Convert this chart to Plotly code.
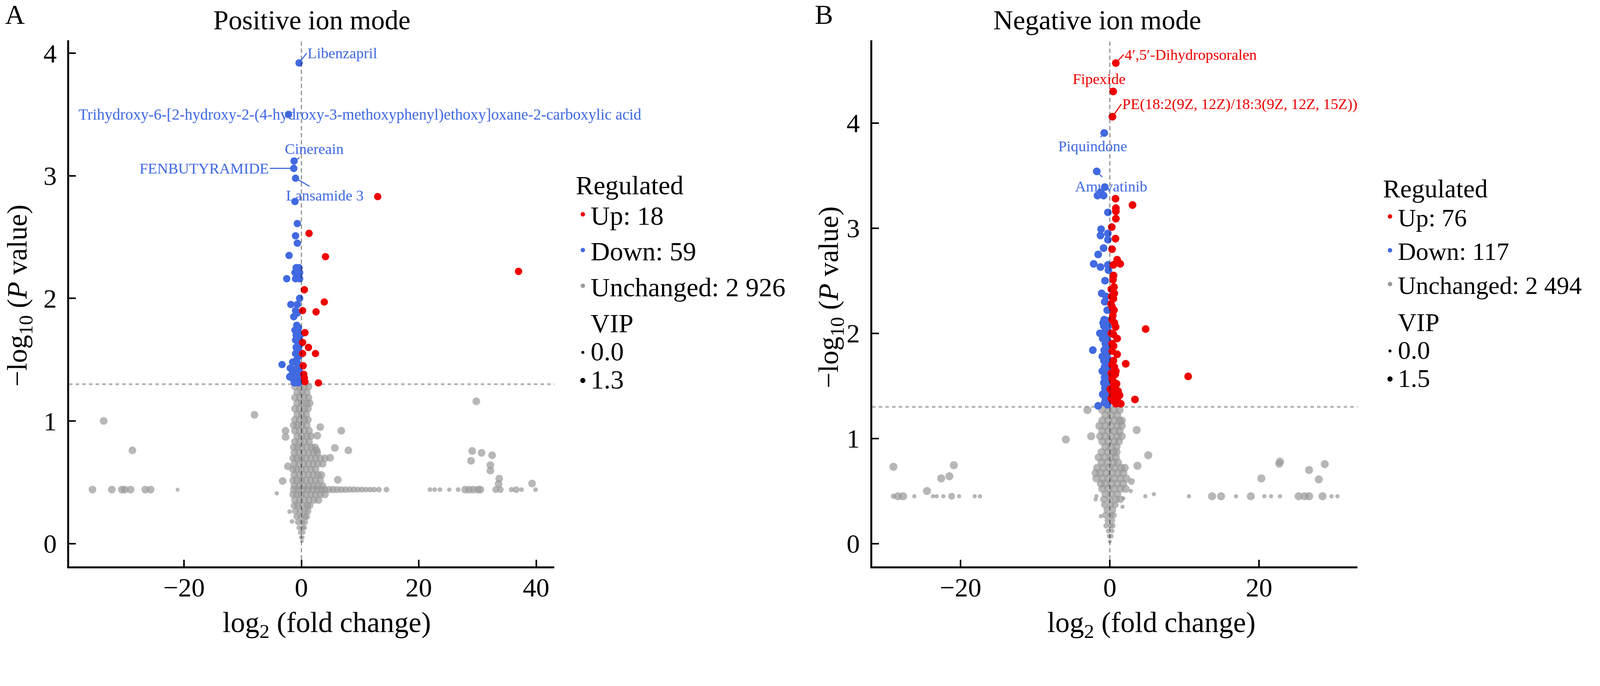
import plotly.graph_objects as go

FONT = "Liberation Serif, Times New Roman, serif"
RED = "#f00000"
BLUE = "#4169e1"
GREY = "#999999"
W, H = 4332, 1755          # reference pixel grid used for all positions
S = 4093 / 4332            # css px per reference px in the viewer


def px(v):
    return v * S


# ---------------- Positive ion mode (panel A) ----------------
pos_up_x = [13.0, 1.3, 4.1, 37.0, 0.5, 3.9, 0.2, 2.5, 0.6, 0.2, 1.2, 0.2, 2.4, 0.4, 0.6, 2.9, 0.3, 0.5]
pos_up_y = [2.83, 2.53, 2.34, 2.22, 2.07, 1.97, 1.90, 1.89, 1.72, 1.64, 1.60, 1.55, 1.55, 1.38, 1.32, 1.31, 1.45, 1.35]

pos_down_x = [-0.4, -2.2, -1.25, -1.3, -1.0, -1.1,
              -0.7, -1.0, -0.7, -2.1,
              -0.9, -0.4, -1.1, -0.3, -0.7, -2.5, -1.0, -0.3,
              -0.3, -1.8, -0.7, -1.0, -0.7, -1.3,
              -0.8, -0.5, -1.1, -0.6, -0.2, -0.9, -0.4, -1.0, -0.6, -0.3,
              -0.9, -0.5, -0.6, -1.0, -0.4, -0.8, -1.1, -1.5, -3.3, -0.5,
              -0.4, -1.9, -1.3, -0.8, -0.3, -1.6, -1.0, -2.0, -0.4, -1.4,
              -0.7, -0.2, -0.9, -1.2, -0.5]
pos_down_y = [3.92, 3.50, 3.12, 3.06, 2.98, 2.79,
              2.61, 2.51, 2.45, 2.35,
              2.25, 2.25, 2.21, 2.21, 2.19, 2.16, 2.16, 2.16,
              2.00, 1.95, 1.95, 1.90, 1.88, 1.85,
              1.78, 1.76, 1.74, 1.72, 1.70, 1.70, 1.68, 1.66, 1.64, 1.62,
              1.60, 1.58, 1.56, 1.55, 1.53, 1.50, 1.48, 1.48, 1.46, 1.46,
              1.45, 1.43, 1.42, 1.41, 1.40, 1.38, 1.37, 1.36, 1.35, 1.34,
              1.33, 1.32, 1.32, 1.31, 1.31]

# dense unchanged cloud: (y, vip, x positions)
pos_cloud = [
    (1.28, 1.3, [-1.1, -0.3, 0.5, 1.2]),
    (1.235, 1.3, [-0.7, 0.1, 0.9]),
    (1.19, 1.3, [-1.1, -0.3, 0.5, 1.2]),
    (1.145, 1.3, [-0.7, 0.1, 0.9, 1.4]),
    (1.10, 1.3, [-1.1, -0.3, 0.5, 1.1]),
    (1.055, 1.3, [-0.7, 0.1, 0.8]),
    (1.01, 1.3, [-1.1, -0.3, 0.5, 1.1]),
    (0.965, 1.3, [-1.3, -0.7, 0.1, 0.9]),
    (0.92, 1.3, [-1.1, -0.3, 0.5, 1.3]),
    (0.875, 1.3, [-0.7, 0.1, 0.9, 1.6]),
    (0.83, 1.3, [-1.1, -0.3, 0.5, 1.3]),
    (0.785, 1.3, [-1.3, -0.7, 0.1, 0.9, 1.7, 2.3]),
    (0.74, 1.3, [-1.2, -0.4, 0.4, 1.2, 2.0, 2.7]),
    (0.695, 1.3, [-1.4, -0.8, 0.0, 0.8, 1.6, 2.4, 3.2, 4.0]),
    (0.65, 1.3, [-1.2, -0.4, 0.4, 1.2, 2.0, 2.8, 3.6]),
    (0.605, 1.3, [-1.4, -0.8, 0.0, 0.8, 1.6, 2.4]),
    (0.56, 1.3, [-1.2, -0.4, 0.4, 1.2, 2.0, 2.8, 3.4]),
    (0.515, 1.3, [-1.4, -0.8, 0.0, 0.8, 1.6, 2.4, 3.2]),
    (0.47, 1.3, [-1.2, -0.4, 0.4, 1.2, 2.0, 2.8, 3.6]),
    (0.44, 1.3, [-1.3, -0.5, 0.3, 1.1, 1.9, 2.7, 3.4]),
    (0.40, 1.3, [-1.4, -0.8, 0.0, 0.8, 1.6, 2.4, 3.2, 4.0]),
    (0.355, 1.3, [-1.1, -0.3, 0.5, 1.3, 2.1, 2.9]),
    (0.31, 1.2, [-1.2, -0.6, 0.2, 1.0, 1.4]),
    (0.265, 1.1, [-1.0, -0.2, 0.6, 1.1]),
    (0.22, 1.0, [-0.8, -0.1, 0.6, 0.9]),
    (0.175, 0.8, [-0.6, 0.1, 0.6]),
    (0.13, 0.6, [-0.4, 0.2, 0.5]),
    (0.09, 0.4, [-0.2, 0.3]),
    (0.05, 0.2, [-0.1, 0.2]),
    (0.02, 0.1, [0.1]),
]
# scattered unchanged points: (x, y, vip)
pos_grey = [
    (-33.7, 1.00, 1.3), (-28.8, 0.76, 1.3), (-35.6, 0.44, 1.3), (-32.3, 0.44, 1.3),
    (-30.6, 0.44, 1.3), (-30.1, 0.44, 1.3), (-29.1, 0.44, 1.3), (-26.6, 0.44, 1.3),
    (-25.7, 0.44, 1.3), (-21.1, 0.44, 0.2), (-8.0, 1.05, 1.3),
    (-2.7, 0.92, 1.3), (-2.7, 0.87, 1.3), (3.2, 0.95, 1.3), (6.8, 0.92, 1.3),
    (2.7, 0.88, 1.3), (5.7, 0.78, 1.3), (8.0, 0.76, 1.3), (2.6, 0.76, 1.3),
    (4.9, 0.70, 1.3), (-2.3, 0.63, 1.3), (6.2, 0.52, 1.3), (-3.2, 0.51, 1.3),
    (-4.2, 0.41, 0.3), (-2.0, 0.26, 0.4), (-1.6, 0.18, 0.4),
    (4.0, 0.44, 1.2), (4.7, 0.44, 1.2), (5.4, 0.44, 1.2), (6.1, 0.44, 1.1),
    (6.8, 0.44, 1.0), (7.5, 0.44, 1.0), (8.2, 0.44, 0.9), (8.9, 0.44, 0.9),
    (9.6, 0.44, 0.8), (10.3, 0.44, 0.8), (11.0, 0.44, 0.7), (11.7, 0.44, 0.7),
    (12.4, 0.44, 0.7), (13.2, 0.44, 0.7), (14.5, 0.44, 0.7),
    (21.9, 0.44, 0.4), (22.7, 0.44, 0.4), (23.6, 0.44, 0.4), (25.2, 0.44, 0.3),
    (26.7, 0.44, 0.4), (27.9, 0.44, 1.3), (28.6, 0.44, 1.3), (29.3, 0.44, 1.3),
    (30.1, 0.44, 1.3), (30.5, 0.44, 1.3), (33.1, 0.44, 1.0), (33.9, 0.44, 1.0),
    (35.8, 0.44, 0.6), (36.6, 0.44, 1.0), (37.5, 0.44, 0.4), (39.9, 0.44, 0.4),
    (29.8, 1.16, 1.3), (29.1, 0.755, 1.3), (30.7, 0.74, 1.3), (32.5, 0.72, 1.3),
    (28.9, 0.675, 1.3), (32.2, 0.64, 1.3), (32.2, 0.595, 1.3), (33.7, 0.53, 1.3),
    (33.6, 0.485, 1.3), (39.3, 0.49, 1.3),
]
pos_sig_vip = 1.3
pos_labels = [
    # text, point x, point y, text x, text y, anchor, colour
    ("Libenzapril", -0.4, 3.92, 0.9, 4.0, "left", BLUE),
    ("Cinereain", -1.25, 3.12, 2.2, 3.22, "center", BLUE),
    ("FENBUTYRAMIDE", -1.3, 3.06, -5.4, 3.06, "right", BLUE),
    ("Lansamide 3", -1.0, 2.98, 4.0, 2.84, "center", BLUE),
]
pos_free_label = ("Trihydroxy-6-[2-hydroxy-2-(4-hydroxy-3-methoxyphenyl)ethoxy]oxane-2-carboxylic acid", -38.1, 3.50)
pos_counts = {"Up": 18, "Down": 59, "Unchanged": "2 926"}
pos_vip_breaks = ["0.0", "1.3"]

# ---------------- Negative ion mode (panel B) ----------------
neg_up_x = [0.8, 0.45, 0.35, 0.76, 3.04, 0.81, 0.81, 0.81, 0.26, 0.76,
            0.98, 1.39, 0.48, 0.43, 0.56, 0.23, 0.48, 0.15, 0.56, 0.4,
            0.31, 0.78, 4.8, 0.48, 0.98, 0.31, 0.98, 0.48, 2.13, 0.81,
            0.73, 10.5, 0.56, 0.07, 0.81, 0.64, 1.3, 3.37, 0.81, 1.47,
            0.3, 0.5, 0.3, 0.6, 0.3, 0.4, 0.2, 0.4, 1.0, 0.3,
            0.2, 0.6, 0.3, 0.2, 0.6, 0.9, 0.2, 1.1, 0.5, 0.3]
neg_up_y = [4.57, 4.30, 4.06, 3.28, 3.22, 3.19, 3.16, 3.09, 3.01, 2.90,
            2.70, 2.66, 2.65, 2.51, 2.44, 2.35, 2.33, 2.28, 2.22, 2.17,
            2.13, 2.06, 2.04, 1.99, 1.95, 1.83, 1.80, 1.74, 1.71, 1.64,
            1.61, 1.59, 1.52, 1.47, 1.47, 1.41, 1.41, 1.37, 1.33, 1.33,
            1.90, 1.88, 1.70, 1.68, 1.57, 1.55, 1.38, 1.36, 1.38, 1.44,
            2.00, 2.10, 2.25, 2.42, 2.38, 1.52, 1.62, 1.45, 2.55, 2.80]

neg_down_x = [-0.75, -1.75, -0.68, -1.26, -1.65, -0.84, -0.26, -1.17, -0.26, -1.25,
              -0.26, -0.84, -1.56, -2.16, -0.26, -1.25, -0.18, -0.64, -1.09, -0.5,
              -0.68, -0.35, -0.75, -0.3, -0.8, -0.25, -1.33, -0.7, -0.3, -0.85,
              -0.35, -2.28, -0.6, -0.25, -0.75, -0.3, -0.65, -0.25, -0.8, -0.35,
              -0.7, -0.25, -0.85, -0.3, -0.7, -0.25, -0.8, -0.35, -0.65, -0.25,
              -0.75, -0.3, -0.6, -0.25, -0.7, -1.56, -0.3, -1.0, -1.0, -0.95,
              -0.9, -0.95]
neg_down_y = [3.905, 3.54, 3.39, 3.34, 3.31, 3.31, 3.15, 2.99, 2.95, 2.93,
              2.89, 2.81, 2.75, 2.66, 2.65, 2.63, 2.60, 2.50, 2.38, 2.35,
              2.30, 2.22, 2.13, 2.12, 2.07, 2.06, 2.00, 2.01, 1.99, 1.95,
              1.94, 1.84, 1.90, 1.88, 1.84, 1.82, 1.78, 1.76, 1.74, 1.71,
              1.68, 1.66, 1.64, 1.61, 1.58, 1.56, 1.53, 1.51, 1.48, 1.46,
              1.43, 1.41, 1.38, 1.36, 1.34, 1.31, 1.32, 1.78, 1.64, 1.42,
              2.10, 1.95]

neg_cloud = [
    (1.27, 1.5, [-1.0, -0.2, 0.6, 1.3]),
    (1.22, 1.5, [-0.6, 0.2, 1.0]),
    (1.17, 1.5, [-1.0, -0.2, 0.6, 1.3]),
    (1.12, 1.5, [-1.4, -0.6, 0.2, 1.0, 1.6]),
    (1.07, 1.5, [-1.0, -0.2, 0.6, 1.3]),
    (1.02, 1.5, [-1.3, -0.6, 0.2, 1.0, 1.6]),
    (0.97, 1.5, [-1.0, -0.2, 0.6, 1.2]),
    (0.92, 1.5, [-0.6, 0.2, 0.9]),
    (0.87, 1.5, [-1.1, -0.3, 0.5, 0.9]),
    (0.82, 1.5, [-1.5, -0.7, 0.1, 0.8]),
    (0.77, 1.5, [-1.1, -0.3, 0.5, 1.1]),
    (0.72, 1.5, [-1.7, -0.9, -0.1, 0.7, 1.5, 2.0]),
    (0.67, 1.5, [-1.9, -1.3, -0.5, 0.3, 1.1, 1.8]),
    (0.62, 1.5, [-1.8, -1.0, -0.2, 0.6, 1.4, 2.2]),
    (0.57, 1.5, [-1.2, -0.6, 0.2, 1.0, 1.8]),
    (0.52, 1.5, [-1.0, -0.2, 0.6, 1.4, 2.1]),
    (0.47, 1.4, [-0.6, 0.2, 1.0]),
    (0.42, 1.3, [-0.8, 0.0, 0.8, 1.4]),
    (0.37, 1.2, [-0.7, 0.1, 0.7]),
    (0.32, 1.1, [-0.4, 0.4]),
    (0.27, 1.0, [-0.6, 0.1, 0.5]),
    (0.22, 0.9, [-0.3, 0.3]),
    (0.17, 0.7, [-0.5, 0.1, 0.4]),
    (0.12, 0.5, [-0.2, 0.3]),
    (0.07, 0.4, [-0.1, 0.2]),
    (0.02, 0.2, [0.0]),
]
neg_grey = [
    (-29.0, 0.73, 1.5), (-20.9, 0.745, 1.5), (-22.6, 0.62, 1.5), (-21.5, 0.64, 1.5),
    (-24.5, 0.50, 1.5),
    (-29.0, 0.45, 0.6), (-28.4, 0.45, 1.5), (-27.7, 0.45, 1.5), (-26.2, 0.45, 0.3),
    (-23.7, 0.45, 0.3), (-23.2, 0.45, 0.3), (-22.3, 0.45, 0.3), (-21.2, 0.45, 1.1),
    (-20.2, 0.45, 0.3), (-18.1, 0.45, 0.3), (-17.4, 0.45, 0.3),
    (-3.0, 1.27, 1.5), (-2.5, 1.02, 1.5), (-5.9, 0.99, 1.5), (3.6, 1.08, 1.5),
    (1.6, 1.17, 1.5), (5.15, 0.84, 1.5), (3.7, 0.74, 1.5), (2.9, 0.59, 1.1),
    (2.8, 0.50, 0.3), (4.75, 0.45, 0.3), (5.9, 0.47, 0.3), (1.8, 0.43, 0.3),
    (1.7, 0.35, 0.3), (-1.2, 0.26, 0.3), (-1.8, 0.45, 0.3), (-1.9, 0.42, 0.3),
    (10.6, 0.45, 0.3),
    (13.7, 0.45, 1.5), (14.9, 0.45, 1.5), (16.9, 0.45, 0.3), (18.9, 0.45, 1.5),
    (20.7, 0.45, 0.3), (21.6, 0.45, 0.3), (22.8, 0.45, 0.3), (25.3, 0.45, 1.5),
    (26.1, 0.45, 1.5), (26.7, 0.45, 1.5), (28.5, 0.45, 1.5), (29.7, 0.45, 0.3),
    (30.5, 0.45, 0.3),
    (22.7, 0.76, 1.5), (22.8, 0.78, 1.5), (20.3, 0.62, 1.5), (26.7, 0.70, 1.5),
    (28.8, 0.755, 1.5), (28.0, 0.61, 1.5),
]
neg_sig_vip = 1.5
neg_labels = [
    ("4\u2032,5\u2032-Dihydropsoralen", 0.8, 4.57, 1.85, 4.65, "left", RED),
    ("Fipexide", 0.45, 4.30, -1.4, 4.42, "center", RED),
    ("PE(18:2(9Z, 12Z)/18:3(9Z, 12Z, 15Z))", 0.35, 4.06, 1.55, 4.18, "left", RED),
    ("Piquindone", -0.75, 3.905, -2.3, 3.78, "center", BLUE),
    ("Amuvatinib", -1.75, 3.54, 0.15, 3.40, "center", BLUE),
]
neg_counts = {"Up": 76, "Down": 117, "Unchanged": "2 494"}
neg_vip_breaks = ["0.0", "1.5"]


def vip_size(vip, vip_max, smin, smax):
    return px(smin + (smax - smin) * vip / vip_max)


fig = go.Figure()


def add_panel(xa, ya, up_x, up_y, dn_x, dn_y, cloud, grey, sig_vip, vip_max, smax,
              labels, counts, vip_breaks, leg_reg, leg_vip, leg_font):
    gx, gy, gs = [], [], []
    for y, vip, xs in cloud:
        for x in xs:
            gx.append(x); gy.append(y); gs.append(vip_size(vip, vip_max, 9, smax))
    for x, y, vip in grey:
        gx.append(x); gy.append(y); gs.append(vip_size(vip, vip_max, 9, smax))
    common = dict(mode="markers", xaxis=xa, yaxis=ya, showlegend=False, hoverinfo="x+y")
    fig.add_trace(go.Scatter(x=gx, y=gy, marker=dict(color=GREY, size=gs, line_width=0), **common))
    sig = vip_size(sig_vip, vip_max, 9, smax - 1)
    fig.add_trace(go.Scatter(x=dn_x, y=dn_y, marker=dict(color=BLUE, size=sig, line_width=0), **common))
    fig.add_trace(go.Scatter(x=up_x, y=up_y, marker=dict(color=RED, size=sig, line_width=0), **common))

    # legend-only entries
    for name, col in [("Up", RED), ("Down", BLUE), ("Unchanged", GREY)]:
        fig.add_trace(go.Scatter(x=[None], y=[None], mode="markers", xaxis=xa, yaxis=ya,
                                 marker=dict(color=col, size=px(12)), legend=leg_reg,
                                 name=f"{name}: {counts[name]}"))
    span = '<span style="font-size:%.1fpx">{}</span>' % px(leg_font)
    fig.add_trace(go.Scatter(x=[None], y=[None], mode="markers", xaxis=xa, yaxis=ya,
                             marker=dict(color="rgba(0,0,0,0)", size=1), legend=leg_vip,
                             name=span.format("VIP")))
    for lab, sz in zip(vip_breaks, [8, 14]):
        fig.add_trace(go.Scatter(x=[None], y=[None], mode="markers", xaxis=xa, yaxis=ya,
                                 marker=dict(color="black", size=px(sz)), legend=leg_vip,
                                 name=span.format(lab)))

    for text, x, y, tx, ty, anchor, col in labels:
        fig.add_annotation(x=x, y=y, xref=xa, yref=ya, ax=tx, ay=ty, axref=xa, ayref=ya,
                           text=text, showarrow=True, arrowhead=0, arrowwidth=px(3),
                           arrowcolor=col, standoff=0, xanchor=anchor,
                           font=dict(family=FONT, size=px(41), color=col))

    fig.add_shape(type="line", xref=xa, yref=f"{ya} domain", x0=0, x1=0, y0=0, y1=1,
                  line=dict(color="rgba(0,0,0,0.45)", width=px(3), dash="11px,7px"), layer="above")
    fig.add_shape(type="line", xref=f"{xa} domain", yref=ya, x0=0, x1=1, y0=1.3, y1=1.3,
                  line=dict(color="rgba(0,0,0,0.3)", width=px(5), dash="9px,8px"), layer="below")


add_panel("x", "y", pos_up_x, pos_up_y, pos_down_x, pos_down_y, pos_cloud, pos_grey,
          pos_sig_vip, 1.3, 21, pos_labels, pos_counts, pos_vip_breaks, "legend", "legend2", 72)
add_panel("x2", "y2", neg_up_x, neg_up_y, neg_down_x, neg_down_y, neg_cloud, neg_grey,
          neg_sig_vip, 1.5, 22, neg_labels, neg_counts, neg_vip_breaks, "legend3", "legend4", 70)

text, fx, fy = pos_free_label
fig.add_annotation(x=fx, y=fy, xref="x", yref="y", text=text, showarrow=False, xanchor="left",
                   font=dict(family=FONT, size=px(42), color=BLUE))

# panel letters, titles and axis titles (reference pixel positions)
page_text = [
    ("A", 40, 40, 74, 0), ("B", 2233, 40, 74, 0),
    ("Positive ion mode", 845, 54, 74, 0), ("Negative ion mode", 2973, 54, 74, 0),
    ("log<sub>2</sub> (fold change)", 885, 1690, 78, 0),
    ("log<sub>2</sub> (fold change)", 3120, 1690, 78, 0),
    ("\u2212log<sub>10</sub> (<i>P</i> value)", 52, 800, 76, -90),
    ("\u2212log<sub>10</sub> (<i>P</i> value)", 2250, 805, 76, -90),
]
for txt, tx, ty, sz, ang in page_text:
    fig.add_annotation(x=tx / W, y=1 - ty / H, xref="paper", yref="paper", text=txt,
                       showarrow=False, xanchor="center", yanchor="middle", textangle=ang,
                       font=dict(family=FONT, size=px(sz), color="black"))

axis_style = dict(showline=True, linewidth=px(5), linecolor="black", ticks="inside", ticklen=px(18),
                  tickwidth=px(4), tickcolor="black", showgrid=False, zeroline=False, mirror=False,
                  tickfont=dict(family=FONT, size=px(72), color="black"))

yd = [1 - 1534 / H, 1 - 109 / H]
fig.update_layout(
    xaxis=dict(domain=[187 / W, 1502 / W], range=[-39.6, 43.1], tickvals=[-20, 0, 20, 40],
               anchor="y", ticklabelstandoff=-10, **axis_style),
    yaxis=dict(domain=yd, range=[-0.187, 4.105], tickvals=[0, 1, 2, 3, 4],
               anchor="x", ticklabelstandoff=13, **axis_style),
    xaxis2=dict(domain=[2363 / W, 3678 / W], range=[-31.85, 33.18], tickvals=[-20, 0, 20],
                anchor="y2", ticklabelstandoff=-10, **axis_style),
    yaxis2=dict(domain=yd, range=[-0.218, 4.787], tickvals=[0, 1, 2, 3, 4],
                anchor="x2", ticklabelstandoff=13, **axis_style),
)

leg_common = dict(xref="container", yref="container", xanchor="left", yanchor="top",
                  bgcolor="rgba(0,0,0,0)", itemsizing="trace", itemclick=False,
                  itemdoubleclick=False)
fig.update_layout(
    legend=dict(x=1558 / W, y=1 - 433 / H, font=dict(family=FONT, size=px(72)),
                title=dict(text="Regulated", font=dict(family=FONT, size=px(72))), **leg_common),
    legend2=dict(x=1558 / W, y=1 - 835 / H, font=dict(family=FONT, size=px(56)), **leg_common),
    legend3=dict(x=3745 / W, y=1 - 444 / H, font=dict(family=FONT, size=px(68)),
                 title=dict(text="Regulated", font=dict(family=FONT, size=px(70))), **leg_common),
    legend4=dict(x=3745 / W, y=1 - 831 / H, font=dict(family=FONT, size=px(56)), **leg_common),
)

fig.update_layout(width=round(W * S), height=round(H * S), autosize=False,
                  margin=dict(l=0, r=0, t=0, b=0, autoexpand=False),
                  plot_bgcolor="white", paper_bgcolor="white",
                  font=dict(family=FONT, color="black"))

fig.write_html("out.html", config={"displayModeBar": False},
               post_script="document.body.style.margin = '0';")
